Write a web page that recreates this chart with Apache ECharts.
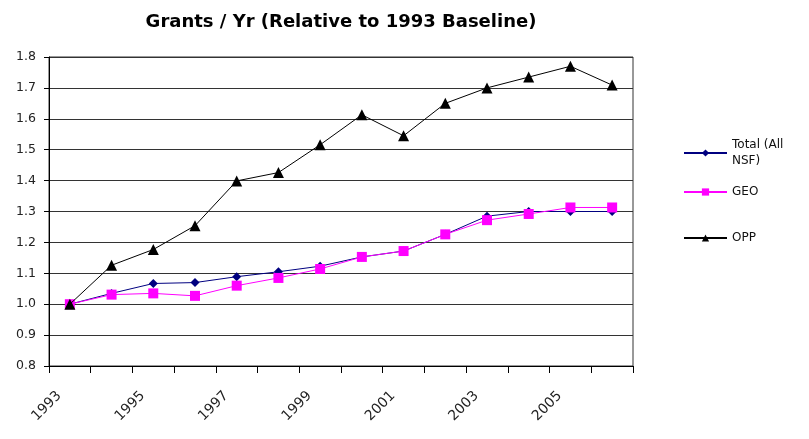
<!DOCTYPE html>
<html>
<head>
<meta charset="utf-8">
<script src="https://cdn.jsdelivr.net/npm/echarts@6/dist/echarts.min.js"></script>
<style>html,body{margin:0;padding:0;background:#fff}#c{width:809px;height:439px}</style>
</head>
<body>
<div id="c"></div>
<script>
var years = ['1993','1994','1995','1996','1997','1998','1999','2000','2001','2002','2003','2004','2005','2006'];
var totalNSF = [1.00,1.035,1.067,1.07,1.089,1.105,1.123,1.153,1.172,1.226,1.285,1.30,1.30,1.30];
var geo = [1.00,1.031,1.035,1.027,1.06,1.085,1.114,1.153,1.172,1.226,1.272,1.292,1.313,1.313];
var opp = [1.00,1.126,1.177,1.254,1.399,1.426,1.516,1.613,1.545,1.65,1.70,1.735,1.77,1.709];
var yTicks = [0.8,0.9,1.0,1.1,1.2,1.3,1.4,1.5,1.6,1.7,1.8];

var chart = echarts.init(document.getElementById('c'));
var font = 'DejaVu Sans, Verdana, sans-serif';
function legendItem(name, top, extra) {
  return {
    data: [name], left: 683, top: top, orient: 'vertical',
    itemWidth: 43, itemHeight: 9, itemGap: 0, padding: 0,
    textStyle: Object.assign({fontFamily: font, fontSize: 12, color: '#111', lineHeight: 16}, extra || {})
  };
}
chart.setOption({
  animation: false,
  title: {
    text: 'Grants / Yr (Relative to 1993 Baseline)',
    left: 336, top: 8, textAlign: 'center',
    textStyle: {fontFamily: font, fontSize: 18, fontWeight: 'bold', color: '#000'}
  },
  legend: [
    Object.assign(legendItem('Total (All NSF)', 129, {padding: [16,0,0,0]}), {
      formatter: function(){ return 'Total (All\nNSF)'; }
    }),
    legendItem('GEO', 184),
    legendItem('OPP', 230)
  ],
  grid: {left: 49, right: 176, top: 57, bottom: 73, show: true, borderColor: '#333', borderWidth: 1},
  xAxis: {
    type: 'category', data: years, boundaryGap: true,
    axisLine: {lineStyle: {color: '#000', width: 1}},
    axisTick: {show: true, inside: false, length: 7, interval: 0, lineStyle: {color: '#000'}},
    axisLabel: {interval: 1, rotate: 45, fontFamily: font, fontSize: 14, color: '#222', margin: 17,
      padding: [0, 15, 0, 0]},
    splitLine: {show: false}
  },
  yAxis: {
    type: 'value', min: 0.8, max: 1.8, interval: 0.1,
    axisLine: {show: true, lineStyle: {color: '#000', width: 1}},
    axisTick: {show: true, length: 5, lineStyle: {color: '#000'}},
    axisLabel: {fontFamily: font, fontSize: 12.5, color: '#222', margin: 13,
      formatter: function(v){ return v.toFixed(1); }},
    splitLine: {show: true, lineStyle: {color: '#333', width: 1}}
  },
  series: [
    {name: 'Total (All NSF)', type: 'line', data: totalNSF, symbol: 'diamond', symbolSize: 9,
      color: '#000080', lineStyle: {width: 1, color: '#000080'}, itemStyle: {color: '#000080'}, z: 3},
    {name: 'GEO', type: 'line', data: geo, symbol: 'rect', symbolSize: 10,
      color: '#ff00ff', lineStyle: {width: 1, color: '#ff00ff'}, itemStyle: {color: '#ff00ff'}, z: 4},
    {name: 'OPP', type: 'line', data: opp, symbol: 'triangle', symbolSize: 11,
      color: '#000', lineStyle: {width: 1, color: '#000'}, itemStyle: {color: '#000'}, z: 5}
  ]
});
</script>
</body>
</html>
